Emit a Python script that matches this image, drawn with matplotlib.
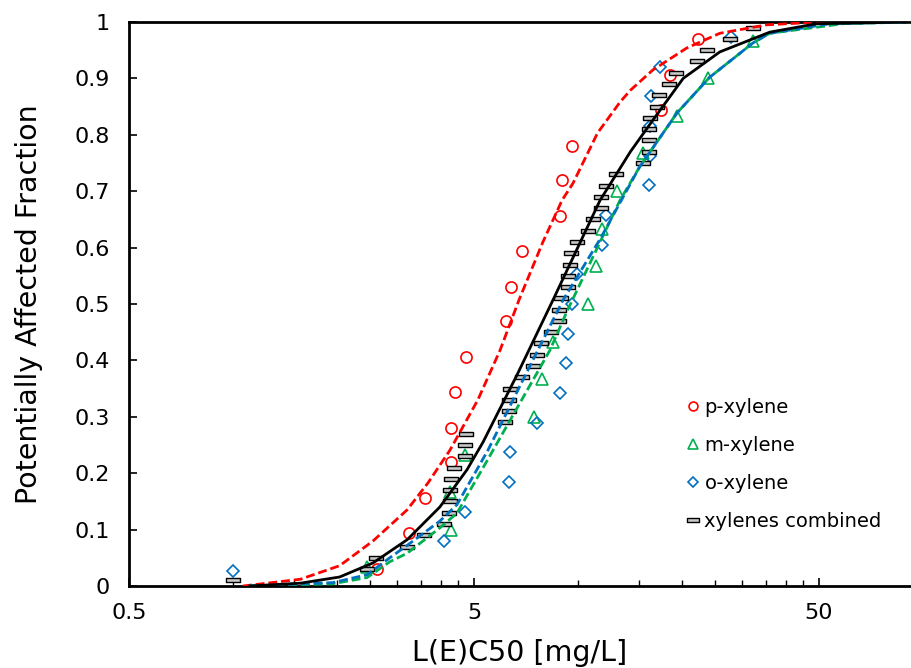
import numpy as np
import matplotlib
matplotlib.use("Agg")
import matplotlib.pyplot as plt
from matplotlib.path import Path
from matplotlib.ticker import FixedLocator, FixedFormatter

# --- observed toxicity values (L(E)C50, mg/L) and plotting fractions ---
p_conc = [2.62, 3.24, 3.6, 4.29, 4.29, 4.4, 4.74, 6.19, 6.4, 6.89, 8.88, 9.0,
          9.61, 17.4, 18.5, 22.3]
p_frac = [0.031, 0.094, 0.156, 0.219, 0.281, 0.344, 0.406, 0.469, 0.531,
          0.594, 0.656, 0.719, 0.781, 0.844, 0.906, 0.969]

m_conc = [2.45, 4.29, 4.26, 4.72, 7.47, 7.87, 8.47, 10.7, 11.3, 11.75, 13.0,
          15.45, 19.4, 23.8, 32.2]
m_frac = [0.033, 0.1, 0.167, 0.233, 0.3, 0.367, 0.433, 0.5, 0.567, 0.633,
          0.7, 0.767, 0.833, 0.9, 0.967]

o_conc = [1.0, 4.09, 4.72, 6.32, 6.36, 7.61, 8.88, 9.24, 9.36, 9.61, 9.94,
          11.75, 12.07, 16.1, 16.2, 16.2, 16.3, 17.3, 27.8]
o_frac = [0.026, 0.079, 0.132, 0.184, 0.237, 0.289, 0.342, 0.395, 0.447, 0.5,
          0.553, 0.605, 0.658, 0.711, 0.763, 0.816, 0.868, 0.921, 0.974]

all_conc = [1.0, 2.45, 2.6, 3.2, 3.58, 4.09, 4.23, 4.26, 4.26, 4.29, 4.38,
            4.71, 4.71, 4.74, 6.15, 6.32, 6.32, 6.36, 6.89, 7.41, 7.61, 7.82,
            8.36, 8.82, 8.82, 8.93, 9.36, 9.36, 9.49, 9.55, 9.94, 10.7, 11.1,
            11.7, 11.7, 12.1, 12.9, 15.45, 16.1, 16.1, 16.1, 16.2, 17.0, 17.2,
            18.4, 19.25, 22.1, 23.7, 27.6, 32.2]
all_frac = [0.01, 0.03, 0.05, 0.07, 0.09, 0.11, 0.13, 0.15, 0.17, 0.19, 0.21,
            0.23, 0.25, 0.27, 0.29, 0.31, 0.33, 0.35, 0.37, 0.39, 0.41, 0.43,
            0.45, 0.47, 0.49, 0.51, 0.53, 0.55, 0.57, 0.59, 0.61, 0.63, 0.65,
            0.67, 0.69, 0.71, 0.73, 0.75, 0.77, 0.79, 0.81, 0.83, 0.85, 0.87,
            0.89, 0.91, 0.93, 0.95, 0.97, 0.99]

# --- fitted distribution curves ---
p_fit_x = [1.07, 1.57, 2.04, 2.55, 3.2, 3.68, 4.26, 5.13, 5.95, 6.75, 7.92,
           9.0, 9.68, 11.4, 13.25, 14.2, 16.5, 20.7, 25.8, 35.3, 50, 92]
p_fit_y = [0.0, 0.012, 0.036, 0.08, 0.135, 0.183, 0.241, 0.33, 0.418, 0.507,
           0.61, 0.684, 0.714, 0.803, 0.858, 0.879, 0.915, 0.954, 0.98, 0.995,
           1.0, 1.0]

m_fit_x = [1.12, 1.95, 2.45, 2.85, 3.2, 3.98, 4.46, 5.49, 8.3, 9.3, 13.25,
           15.1, 19.4, 24.1, 32.2, 36.0, 59.0, 92]
m_fit_y = [0.0, 0.004, 0.015, 0.043, 0.058, 0.103, 0.129, 0.225, 0.418, 0.487,
           0.684, 0.743, 0.839, 0.902, 0.963, 0.98, 0.997, 1.0]

o_fit_x = [1.12, 1.95, 2.45, 2.85, 3.2, 3.98, 4.46, 5.49, 7.02, 9.06, 11.6,
           15.1, 19.4, 24.1, 32.2, 36.0, 53.8, 92]
o_fit_y = [0.0, 0.006, 0.02, 0.05, 0.072, 0.115, 0.144, 0.241, 0.372, 0.507,
           0.615, 0.743, 0.839, 0.902, 0.963, 0.98, 0.997, 1.0]

all_fit_x = [1.12, 1.57, 2.04, 2.55, 3.2, 3.98, 4.77, 5.31, 6.66, 8.47, 11.6,
             14.2, 16.5, 20.2, 25.8, 36.0, 49.3, 92]
all_fit_y = [0.0, 0.005, 0.016, 0.041, 0.082, 0.14, 0.206, 0.255, 0.374,
             0.507, 0.684, 0.77, 0.826, 0.90, 0.947, 0.982, 0.997, 1.0]

RED = '#FF0000'
GREEN = '#00B050'
BLUE = '#0070C0'

plt.rcParams['font.family'] = ['DejaVu Sans']

fig = plt.figure(figsize=(9.11, 6.68), dpi=100)
ax = fig.add_axes([129/911, 1-586/668, 782/911, (586-22)/668])

# flat bar marker for the combined data
bar = Path([(-1, -0.28), (1, -0.28), (1, 0.28), (-1, 0.28), (-1, -0.28)],
           [Path.MOVETO, Path.LINETO, Path.LINETO, Path.LINETO, Path.CLOSEPOLY])

ax.plot(p_conc, p_frac, 'o', ms=8, mfc='none', mec=RED, mew=1.2,
        label='p-xylene', zorder=3)
ax.plot(m_conc, m_frac, '^', ms=9, mfc='none', mec=GREEN, mew=1.2,
        label='m-xylene', zorder=3)
ax.plot(o_conc, o_frac, 'D', ms=6.5, mfc='none', mec=BLUE, mew=1.2,
        label='o-xylene', zorder=3)
ax.plot(all_conc, all_frac, marker=bar, ls='none', ms=10, mfc='#c8c8c8',
        mec='black', mew=1.0, label='xylenes combined', zorder=3)

dash = (0, (3.2, 1.4))
ax.plot(p_fit_x, p_fit_y, color=RED, lw=2, ls=dash, zorder=4)
ax.plot(m_fit_x, m_fit_y, color=GREEN, lw=2, ls=dash, zorder=4)
ax.plot(o_fit_x, o_fit_y, color=BLUE, lw=2, ls=dash, zorder=4)
ax.plot(all_fit_x, all_fit_y, color='black', lw=2, zorder=4)

ax.set_xscale('log')
ax.set_xlim(0.5, 92.4)
ax.set_ylim(0, 1)

ax.xaxis.set_major_locator(FixedLocator([0.5, 5, 50]))
ax.xaxis.set_major_formatter(FixedFormatter(['0.5', '5', '50']))
minor = [0.5*k for k in range(2, 10)] + [5*k for k in range(2, 10)] + [100]
ax.xaxis.set_minor_locator(FixedLocator(minor))
ax.xaxis.set_minor_formatter(FixedFormatter([''] * len(minor)))
ax.set_yticks(np.arange(0, 1.01, 0.1))
ax.set_yticklabels(['0', '0.1', '0.2', '0.3', '0.4', '0.5', '0.6', '0.7',
                    '0.8', '0.9', '1'])

ax.tick_params(axis='both', which='major', direction='in', length=6,
               width=1.2, labelsize=16)
ax.tick_params(axis='x', which='major', pad=12)
ax.tick_params(axis='y', which='major', pad=14)
ax.tick_params(axis='x', which='minor', direction='in', length=4, width=1.0)

for s in ['left', 'bottom', 'top']:
    ax.spines[s].set_linewidth(2)
ax.spines['right'].set_visible(False)

ax.set_xlabel('L(E)C50 [mg/L]', fontsize=20.5, labelpad=12)
ax.set_ylabel('Potentially Affected Fraction', fontsize=20.5, labelpad=22)

ax.legend(loc='upper left', bbox_to_anchor=(685/911, 1-398/668),
          bbox_transform=fig.transFigure, frameon=False, fontsize=14,
          handlelength=0.8, handletextpad=0.2, labelspacing=0.98,
          borderpad=0, borderaxespad=0, markerscale=0.8)

fig.savefig('out.png', dpi=100)
